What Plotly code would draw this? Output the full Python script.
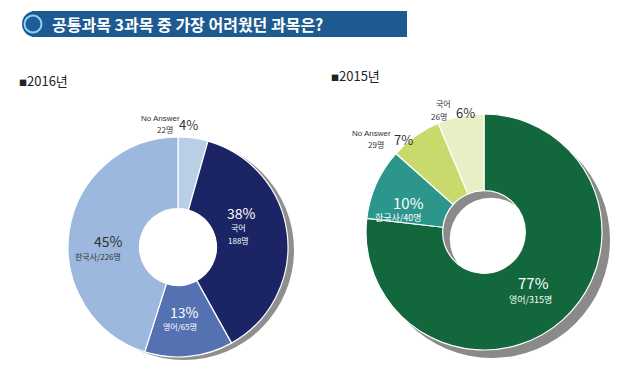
import plotly.graph_objects as go

W, H = 640, 380

def px(x):
    return x / W

def py(y):
    return 1 - y / H

FONT = "Noto Sans CJK KR"

title_text = "공통과목 3과목 중 가장 어려웠던 과목은?"

# 2016 data
labels_2016 = ["No Answer", "국어", "영어", "한국사"]
counts_2016 = [22, 188, 65, 226]
pcts_2016 = [4, 38, 13, 45]
colors_2016 = ["#b9cfe6", "#1b2565", "#5471b1", "#9db8de"]

# 2015 data
labels_2015 = ["영어", "한국사", "No Answer", "국어"]
counts_2015 = [315, 40, 29, 26]
pcts_2015 = [77, 10, 7, 6]
colors_2015 = ["#12673d", "#2c958c", "#c8da6c", "#e8efc5"]

fig = go.Figure()

def domain(cx, cy, r):
    return dict(x=[px(cx - r), px(cx + r)], y=[py(cy + r), py(cy - r)])

L = dict(cx=178, cy=247, r=110)
R = dict(cx=484, cy=232, r=118)

fig.add_trace(go.Pie(
    labels=labels_2016, values=counts_2016, sort=False, direction="clockwise",
    rotation=0, hole=0.35, textposition="none", showlegend=False,
    marker=dict(colors=colors_2016, line=dict(color="white", width=1.2)),
    domain=domain(L["cx"], L["cy"], L["r"]),
))
fig.add_trace(go.Pie(
    labels=labels_2015, values=counts_2015, sort=False, direction="clockwise",
    rotation=0, hole=0.35, textposition="none", showlegend=False,
    marker=dict(colors=colors_2015, line=dict(color="white", width=1.2)),
    domain=domain(R["cx"], R["cy"], R["r"]),
))

shapes = []

def circle(cx, cy, r, fill, line=None, lw=0, layer="below"):
    return dict(type="circle", xref="paper", yref="paper",
                x0=px(cx - r), x1=px(cx + r), y0=py(cy + r), y1=py(cy - r),
                fillcolor=fill, line=dict(color=line or fill, width=lw), layer=layer)

# shadows
shapes.append(circle(L["cx"] + 6, L["cy"] + 3, L["r"], "#8f8f8f"))
shapes.append(circle(L["cx"] - 2, L["cy"] + 2, L["r"] * 0.42, "white"))
shapes.append(circle(R["cx"] + 8, R["cy"] + 8, R["r"], "#8a8a8a"))
shapes.append(circle(R["cx"] + 7, R["cy"] + 7, R["r"] * 0.35, "white"))

# title banner
shapes.append(dict(type="rect", xref="paper", yref="paper",
                   x0=px(32), x1=px(407), y0=py(37), y1=py(11),
                   fillcolor="#1e5a92", line=dict(width=0), layer="below"))
shapes.append(circle(35, 24, 13, "#1e5a92"))
shapes.append(circle(33, 24, 8.5, "#1f5c99", line="#8ad6f2", lw=2, layer="above"))

annotations = []

def ann(x, y, text, size, color="#333333", bold=False, xanchor="center", family=FONT):
    if bold:
        text = "<b>" + text + "</b>"
    annotations.append(dict(x=px(x), y=py(y), xref="paper", yref="paper", text=text,
                            showarrow=False, xanchor=xanchor, yanchor="middle",
                            font=dict(size=size, color=color, family=family)))

SQ = "<span style='font-size:8px'>■</span>"
ann(50, 24, title_text, 16, color="white", bold=True, xanchor="left")
ann(17, 80, SQ + "2016년", 13, color="#222222", xanchor="left")
ann(329, 75, SQ + "2015년", 13, color="#222222", xanchor="left")

# 2016 labels
ann(160, 118, labels_2016[0], 8, xanchor="center", family="Liberation Sans")
ann(175, 129, f"{counts_2016[0]}명", 8, xanchor="right")
ann(188, 124, f"{pcts_2016[0]}%", 13)
ann(241, 213, f"{pcts_2016[1]}%", 14, color="white")
ann(238, 227, labels_2016[1], 8, color="white")
ann(238, 240, f"{counts_2016[1]}명", 8, color="white")
ann(184, 312, f"{pcts_2016[2]}%", 14, color="white")
ann(180, 326, f"{labels_2016[2]}/{counts_2016[2]}명", 8, color="white")
ann(108, 241, f"{pcts_2016[3]}%", 14, color="#333333")
ann(98, 256, f"{labels_2016[3]}/{counts_2016[3]}명", 8, color="#333333")

# 2015 labels
ann(533, 282, f"{pcts_2015[0]}%", 15, color="white")
ann(530, 299, f"{labels_2015[0]}/{counts_2015[0]}명", 9, color="white")
ann(408, 202, f"{pcts_2015[1]}%", 15, color="white")
ann(398, 217, f"{labels_2015[1]}/{counts_2015[1]}명", 9, color="white")
ann(371, 133, labels_2015[2], 8, family="Liberation Sans")
ann(386, 144, f"{counts_2015[2]}명", 8, xanchor="right")
ann(403, 139, f"{pcts_2015[2]}%", 13)
ann(443, 103, labels_2015[3], 8)
ann(449, 117, f"{counts_2015[3]}명", 8, xanchor="right")
ann(465, 112, f"{pcts_2015[3]}%", 13)

fig.update_layout(
    width=W, height=H, margin=dict(l=0, r=0, t=0, b=0),
    paper_bgcolor="white", plot_bgcolor="white",
    shapes=shapes, annotations=annotations,
    font=dict(family=FONT),
)

fig.write_html("out.html", config={"displayModeBar": False},
               post_script="document.body.style.margin='0';")
